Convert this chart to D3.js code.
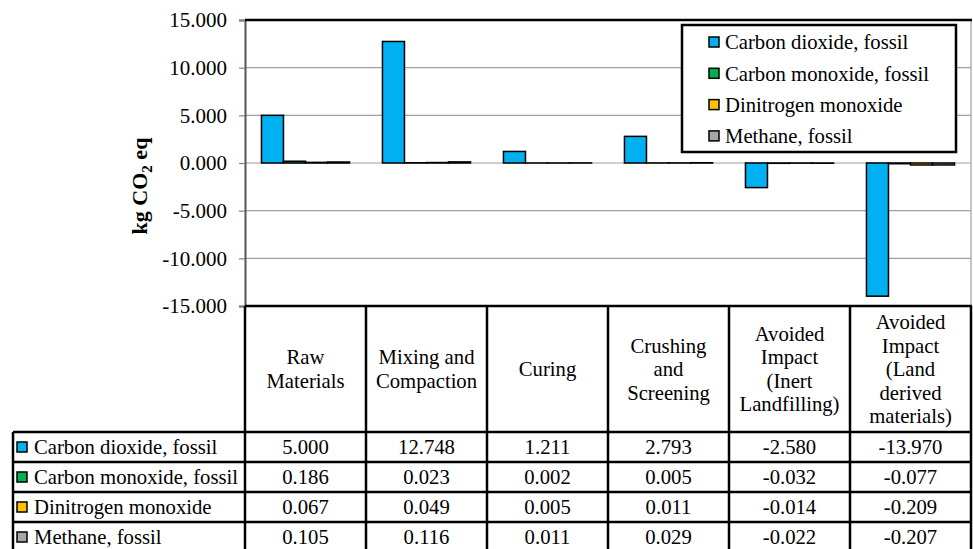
<!DOCTYPE html>
<html>
<head>
<meta charset="utf-8">
<script src="https://cdn.jsdelivr.net/npm/d3@7"></script>
<style>
  html, body { margin: 0; padding: 0; background: #fff; }
  svg text { font-family: "Liberation Serif", "Times New Roman", serif; }
</style>
</head>
<body>
<svg id="chart" width="973" height="549"></svg>
<script>
const FONT = "'Liberation Serif', 'Times New Roman', serif";
const TXT = 20.7;

// Life-cycle stages (table column headers, one line per array entry)
const categories = [
  ["Raw", "Materials"],
  ["Mixing and", "Compaction"],
  ["Curing"],
  ["Crushing", "and", "Screening"],
  ["Avoided", "Impact", "(Inert", "Landfilling)"],
  ["Avoided", "Impact", "(Land", "derived", "materials)"]
];
const seriesNames = ["Carbon dioxide, fossil", "Carbon monoxide, fossil", "Dinitrogen monoxide", "Methane, fossil"];
const seriesColors = ["#00B0F0", "#00B050", "#FFC000", "#A6A6A6"];

// kg CO2 eq per stage
const carbonDioxide   = [5.000, 12.748, 1.211, 2.793, -2.580, -13.970];
const carbonMonoxide  = [0.186, 0.023, 0.002, 0.005, -0.032, -0.077];
const dinitrogenMonox = [0.067, 0.049, 0.005, 0.011, -0.014, -0.209];
const methane         = [0.105, 0.116, 0.011, 0.029, -0.022, -0.207];
const seriesValues = [carbonDioxide, carbonMonoxide, dinitrogenMonox, methane];

const yTicks = [15, 10, 5, 0, -5, -10, -15];

const fmt = d3.formatLocale({decimal: ".", thousands: ",", grouping: [3], currency: ["", ""], minus: "-"}).format(".3f");

const svg = d3.select("#chart");
const plot = {left: 245, right: 971, top: 20, bottom: 306};
const headerBottom = 432, rowH = 30, tableLeft = 13;

const catKeys = categories.map((c, i) => i);
const x0 = d3.scaleBand().domain(catKeys).range([plot.left, plot.right]);
const bw = x0.bandwidth();
const x1 = d3.scaleBand().domain(d3.range(seriesNames.length)).range([bw * 0.136, bw * 0.864]);
const y = d3.scaleLinear().domain([-15, 15]).range([plot.bottom, plot.top]);

// gridlines
svg.append("g").selectAll("line").data(yTicks.filter(t => t !== 15 && t !== -15)).join("line")
  .attr("x1", plot.left).attr("x2", plot.right)
  .attr("y1", d => y(d)).attr("y2", d => y(d))
  .attr("stroke", "#A0A0A0").attr("stroke-width", 1.2);

// plot right edge
svg.append("line").attr("x1", plot.right).attr("x2", plot.right)
  .attr("y1", plot.top).attr("y2", plot.bottom).attr("stroke", "#A0A0A0").attr("stroke-width", 1.2);

// bars
const groups = svg.append("g").selectAll("g").data(catKeys).join("g")
  .attr("transform", d => `translate(${x0(d)},0)`);
groups.selectAll("rect").data(ci => seriesValues.map((vals, si) => ({si, v: vals[ci]}))).join("rect")
  .attr("x", d => x1(d.si))
  .attr("width", x1.bandwidth())
  .attr("y", d => y(Math.max(0, d.v)))
  .attr("height", d => Math.abs(y(d.v) - y(0)))
  .attr("fill", d => seriesColors[d.si])
  .attr("stroke", "#000").attr("stroke-width", 1.5);

// y axis
const yAxis = d3.axisLeft(y).tickValues(yTicks).tickFormat(fmt).tickSize(6).tickPadding(12);
const ya = svg.append("g").attr("transform", `translate(${plot.left},0)`).call(yAxis)
  .attr("font-family", FONT).attr("font-size", 21);
ya.select(".domain").attr("stroke", "#555").attr("stroke-width", 2);
ya.selectAll(".tick line").attr("stroke", "#808080").attr("stroke-width", 1.2);
ya.selectAll(".tick text").attr("fill", "#000");

// plot top border
svg.append("line").attr("x1", plot.left).attr("x2", plot.right + 1).attr("y1", plot.top).attr("y2", plot.top)
  .attr("stroke", "#000").attr("stroke-width", 2.5);

// y title
const yt = svg.append("text").attr("transform", "translate(147,186) rotate(-90)")
  .attr("text-anchor", "middle").attr("font-weight", "bold").attr("font-size", 22).attr("font-family", FONT);
yt.append("tspan").text("kg CO");
yt.append("tspan").attr("font-size", 15).attr("dy", 5).text("2");
yt.append("tspan").attr("dy", -5).text(" eq");

// legend
const lg = svg.append("g").attr("font-family", FONT);
lg.append("rect").attr("x", 682).attr("y", 25).attr("width", 274).attr("height", 127)
  .attr("fill", "#fff").attr("stroke", "#000").attr("stroke-width", 2.5);
const lgItems = lg.selectAll("g.item").data(seriesNames).join("g").attr("class", "item")
  .attr("transform", (d, i) => `translate(709,${42 + i * 31.3})`);
lgItems.append("rect").attr("x", 0).attr("y", -5).attr("width", 10).attr("height", 10)
  .attr("fill", (d, i) => seriesColors[i]).attr("stroke", "#000").attr("stroke-width", 1.5);
lgItems.append("text").attr("x", 16).attr("y", 0).attr("dy", "0.35em")
  .attr("font-size", TXT).text(d => d);

// data table
const tbl = svg.append("g").attr("font-family", FONT);
const lineStyle = sel => sel.attr("stroke", "#000").attr("stroke-width", 2.5);
const tableBottom = headerBottom + rowH * seriesNames.length + 4;

// header column text
categories.forEach((lines, ci) => {
  const cx = x0(ci) + bw / 2;
  const lh = 23.5;
  const cy = (plot.bottom + headerBottom) / 2;
  const t = tbl.append("text").attr("text-anchor", "middle").attr("font-size", TXT);
  lines.forEach((ln, li) => {
    t.append("tspan").attr("x", cx)
      .attr("y", cy + (li - (lines.length - 1) / 2) * lh)
      .attr("dy", "0.35em").text(ln);
  });
});

// rows
seriesNames.forEach((name, si) => {
  const cy = headerBottom + si * rowH + rowH / 2;
  tbl.append("rect").attr("x", tableLeft + 4).attr("y", cy - 5).attr("width", 10).attr("height", 10)
    .attr("fill", seriesColors[si]).attr("stroke", "#000").attr("stroke-width", 1.5);
  tbl.append("text").attr("x", tableLeft + 21).attr("y", cy).attr("dy", "0.35em")
    .attr("font-size", TXT).text(name);
  seriesValues[si].forEach((v, ci) => {
    tbl.append("text").attr("x", x0(ci) + bw / 2).attr("y", cy).attr("dy", "0.35em")
      .attr("text-anchor", "middle").attr("font-size", TXT).text(fmt(v));
  });
});

// table grid lines
tbl.append("line").attr("x1", plot.left).attr("x2", plot.right + 1).attr("y1", plot.bottom).attr("y2", plot.bottom).call(lineStyle);
d3.range(seriesNames.length).forEach(i => {
  const yy = headerBottom + i * rowH;
  tbl.append("line").attr("x1", tableLeft).attr("x2", plot.right + 1).attr("y1", yy).attr("y2", yy).call(lineStyle);
});
catKeys.concat([categories.length]).forEach(ci => {
  const xx = ci < categories.length ? x0(ci) : plot.right;
  tbl.append("line").attr("x1", xx).attr("x2", xx).attr("y1", plot.bottom).attr("y2", tableBottom).call(lineStyle);
});
tbl.append("line").attr("x1", tableLeft).attr("x2", tableLeft).attr("y1", headerBottom).attr("y2", tableBottom).call(lineStyle);
</script>
</body>
</html>
